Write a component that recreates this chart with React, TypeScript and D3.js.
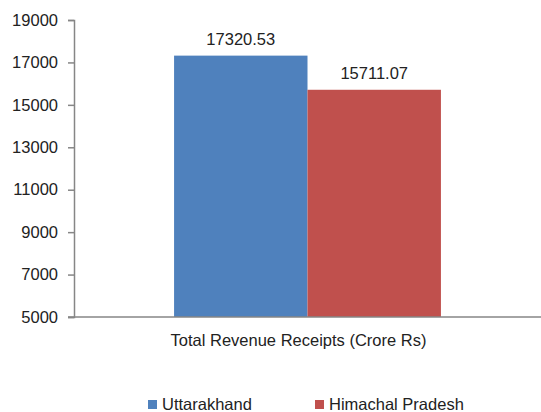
import React, { useEffect, useRef } from 'react';
import * as d3 from 'd3';

const categories = ['Total Revenue Receipts (Crore Rs)'];
const seriesNames = ['Uttarakhand', 'Himachal Pradesh'];
const seriesValues = [[17320.53], [15711.07]];
const seriesColors = ['#4F81BD', '#C0504D'];
const yTicks = [5000, 7000, 9000, 11000, 13000, 15000, 17000, 19000];

const W = 541, H = 412;
const FONT = '"Liberation Sans", Arial, sans-serif';
const FS = 16.5;

const App = () => {
  const svgRef = useRef<SVGSVGElement>(null);

  useEffect(() => {
    const svg = d3.select(svgRef.current);
    svg.selectAll('*').remove();

    const left = 74, right = W, top = 20, bottom = 317;

    const y = d3.scaleLinear().domain([5000, 19000]).range([bottom, top]);
    const x0 = d3.scaleBand().domain(categories).range([left, right]).paddingOuter(0.375).paddingInner(0);
    const x1 = d3.scaleBand().domain(seriesNames).range([0, x0.bandwidth()]).padding(0);

    // bars + value labels
    seriesNames.forEach((s, si) => {
      categories.forEach((c, ci) => {
        const v = seriesValues[si][ci];
        const bx = x0(c)! + x1(s)!;
        svg.append('rect')
          .attr('x', bx)
          .attr('y', y(v))
          .attr('width', x1.bandwidth())
          .attr('height', y(5000) - y(v))
          .attr('fill', seriesColors[si]);
        svg.append('text')
          .attr('x', bx + x1.bandwidth() / 2)
          .attr('y', y(v) - 11)
          .attr('text-anchor', 'middle')
          .attr('font-family', FONT)
          .attr('font-size', FS)
          .attr('fill', '#222')
          .text(v.toFixed(2));
      });
    });

    // y axis
    const yAxis = svg.append('g')
      .attr('transform', `translate(${left},0)`)
      .call(d3.axisLeft(y).tickValues(yTicks).tickSize(6).tickPadding(10).tickFormat(d3.format('d')));
    yAxis.select('.domain').attr('stroke', '#868686').attr('stroke-width', 1.5);
    yAxis.selectAll('.tick line').attr('stroke', '#868686').attr('stroke-width', 1.5);
    yAxis.selectAll('.tick text')
      .attr('font-family', FONT)
      .attr('font-size', FS)
      .attr('fill', '#222');

    // x axis line
    svg.append('line')
      .attr('x1', left - 6).attr('x2', right)
      .attr('y1', bottom).attr('y2', bottom)
      .attr('stroke', '#868686').attr('stroke-width', 1.5);

    // category label
    categories.forEach((c) => {
      svg.append('text')
        .attr('x', x0(c)! + x0.bandwidth() / 2 - 9)
        .attr('y', 346)
        .attr('text-anchor', 'middle')
        .attr('font-family', FONT)
        .attr('font-size', FS)
        .attr('fill', '#222')
        .text(c);
    });

    // legend
    const legendX = [148, 315];
    seriesNames.forEach((s, i) => {
      const g = svg.append('g').attr('transform', `translate(${legendX[i]},400)`);
      g.append('rect').attr('width', 9).attr('height', 9).attr('fill', seriesColors[i]);
      g.append('text')
        .attr('x', 14)
        .attr('y', 10)
        .attr('font-family', FONT)
        .attr('font-size', FS)
        .attr('fill', '#222')
        .text(s);
    });
  }, []);

  return (
    <svg
      ref={svgRef}
      width={W}
      height={H}
      style={{ position: 'absolute', left: 0, top: 0, background: '#fff' }}
    />
  );
};

export default App;
